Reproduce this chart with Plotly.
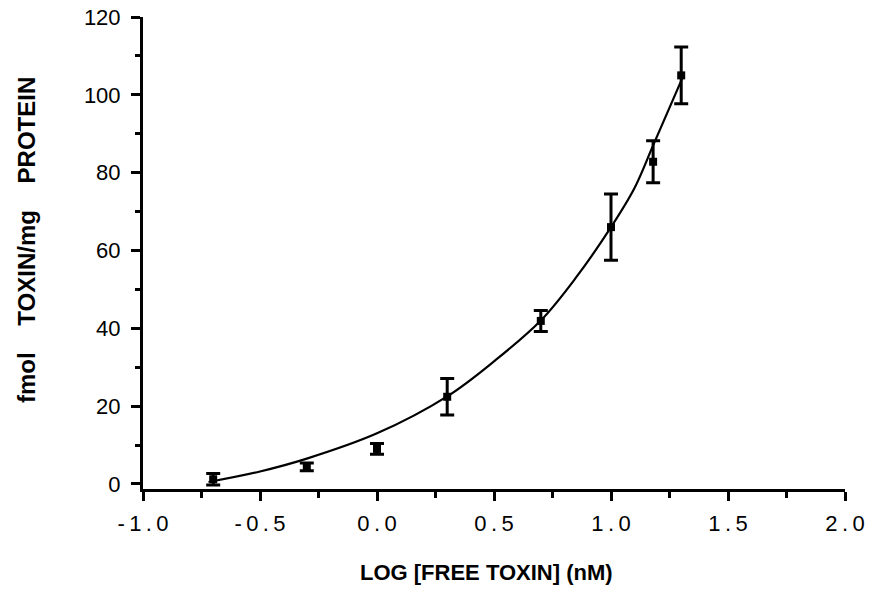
import plotly.graph_objects as go

# Data points (log free toxin, nM) and binding (fmol toxin / mg protein)
x_pts = [-0.70, -0.30, 0.00, 0.30, 0.70, 1.00, 1.18, 1.30]
y_pts = [1.2, 4.4, 9.0, 22.4, 41.9, 66.0, 82.8, 105.0]
err_pts = [1.5, 1.0, 1.4, 4.7, 2.7, 8.5, 5.4, 7.3]

# Fitted curve
x_fit = [-0.72, -0.5, -0.3, 0.0, 0.3, 0.5, 0.7, 0.85, 1.0, 1.1, 1.18, 1.31]
y_fit = [0.5, 3.2, 6.5, 13.0, 22.5, 31.5, 42.0, 53.0, 66.0, 76.0, 87.0, 105.0]

x_ticks = [-1.0, -0.5, 0.0, 0.5, 1.0, 1.5, 2.0]
x_tick_text = ["-1.0", "-0.5", "0.0", "0.5", "1.0", "1.5", "2.0"]
y_ticks = [0, 20, 40, 60, 80, 100, 120]
y_tick_text = ["0", "20", "40", "60", "80", "100", "120"]

x_title = "LOG [FREE TOXIN] (nM)"
y_title_words = ["fmol", "TOXIN/mg", "PROTEIN"]

font_family = "Liberation Sans, Arial, Helvetica, sans-serif"
TS = "\u2009"  # thin space, to mimic the wide letter spacing of the tick labels
NB = "\u00a0"

fig = go.Figure()
fig.add_trace(go.Scatter(
    x=x_fit, y=y_fit, mode="lines",
    line=dict(color="black", width=2.2, shape="spline", smoothing=1.0),
    showlegend=False, hoverinfo="skip",
))
fig.add_trace(go.Scatter(
    x=x_pts, y=y_pts, mode="markers",
    marker=dict(symbol="square", size=8, color="black"),
    error_y=dict(type="data", array=err_pts, color="black", thickness=3, width=7),
    showlegend=False,
))

fig.update_layout(
    width=870, height=598,
    margin=dict(l=143, r=25, t=17, b=109),
    paper_bgcolor="white", plot_bgcolor="white",
    font=dict(family=font_family, color="black", size=22),
)
fig.update_xaxes(
    range=[-1.0, 2.0], showgrid=False, zeroline=False, automargin=False,
    showline=True, linecolor="black", linewidth=3,
    ticks="outside", ticklen=9, tickwidth=2.5, tickcolor="black",
    tickvals=x_ticks, ticktext=[TS.join(list(t)) for t in x_tick_text],
    tickfont=dict(size=22, family=font_family), ticklabelstandoff=4,
    ticklabeloverflow="allow",
    minor=dict(dtick=0.25, tick0=0, ticks="outside", ticklen=6, tickwidth=2.5, tickcolor="black"),
)
fig.update_yaxes(
    range=[-1.3, 120], showgrid=False, zeroline=False, automargin=False,
    showline=True, linecolor="black", linewidth=3,
    ticks="outside", ticklen=9, tickwidth=2.5, tickcolor="black",
    tickvals=y_ticks, ticktext=y_tick_text,
    tickfont=dict(size=22, family=font_family), ticklabelstandoff=6,
    ticklabeloverflow="allow",
    minor=dict(dtick=10, tick0=0, ticks="outside", ticklen=5, tickwidth=2.5, tickcolor="black"),
)

# axis titles as annotations for precise placement
fig.add_annotation(
    text="<b>" + x_title + "</b>", xref="paper", yref="paper",
    x=0.49, y=-0.176, xanchor="center", yanchor="middle", showarrow=False,
    font=dict(size=22, family=font_family, color="black"),
)
fig.add_annotation(
    text="<b>" + (NB * 4).join(y_title_words) + "</b>", xref="paper", yref="paper",
    x=-0.1667, y=0.5275, xanchor="center", yanchor="middle", showarrow=False,
    textangle=-90, font=dict(size=24, family=font_family, color="black"),
)

# remove the default page margin so the figure sits at the window's top-left corner
fig.write_html("out.html", config={"displayModeBar": False},
               post_script="document.body.style.margin='0';")
